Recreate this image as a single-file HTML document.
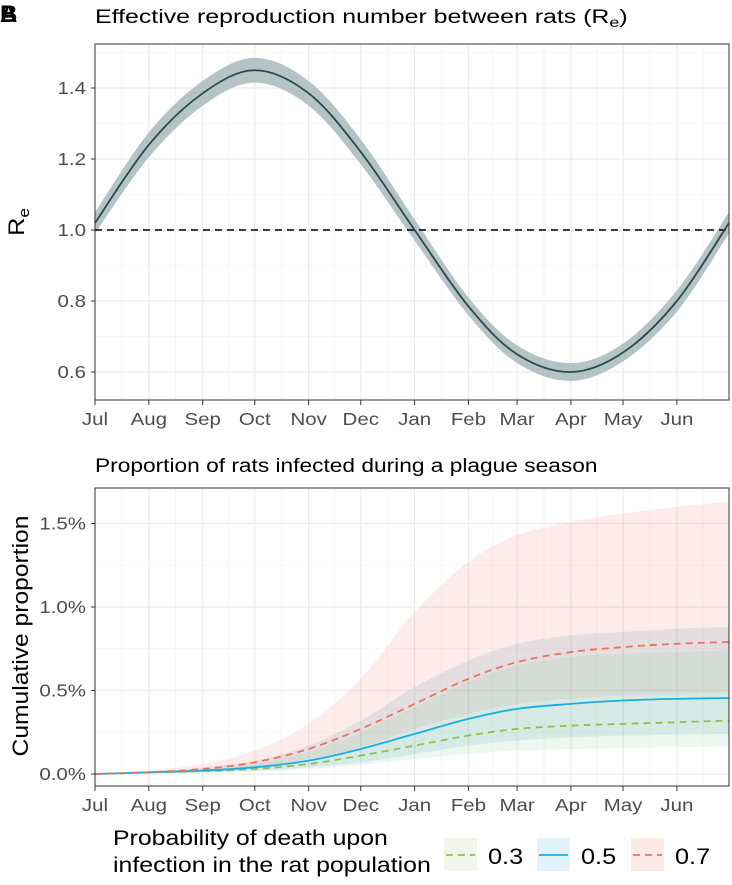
<!DOCTYPE html>
<html><head><meta charset="utf-8"><style>
body{margin:0;background:#fff;}
svg{display:block;font-family:"Liberation Sans",Arial,sans-serif;}
</style></head><body>
<svg id="c" width="732" height="885"></svg>
<script>
const months=["Jul","Aug","Sep","Oct","Nov","Dec","Jan","Feb","Mar","Apr","May","Jun"];
const monthDays=[0,31,62,92,123,153,184,215,243,274,304,335,365];
const reMid=[1.02,1.24,1.385,1.45,1.385,1.22,1.0,0.785,0.65,0.60,0.655,0.80,1.02];
const reBand=[0.03,0.035,0.035,0.035,0.035,0.035,0.03,0.025,0.025,0.025,0.025,0.03,0.03];
const reTicks=[0.6,0.8,1.0,1.2,1.4];
const p7Mid=[0,0.01,0.03,0.07,0.15,0.27,0.42,0.57,0.67,0.73,0.76,0.78,0.79];
const p7Hi=[0,0.02,0.06,0.14,0.30,0.57,0.97,1.27,1.43,1.51,1.56,1.60,1.63];
const p7Lo=[0,0.008,0.02,0.04,0.09,0.16,0.27,0.36,0.42,0.45,0.47,0.48,0.49];
const p5Mid=[0,0.01,0.02,0.04,0.08,0.15,0.24,0.33,0.39,0.42,0.44,0.45,0.455];
const p5Hi=[0,0.015,0.04,0.08,0.17,0.32,0.52,0.68,0.78,0.83,0.85,0.87,0.88];
const p5Lo=[0,0.005,0.01,0.02,0.04,0.07,0.12,0.17,0.20,0.22,0.23,0.235,0.24];
const p3Mid=[0,0.01,0.017,0.03,0.06,0.11,0.17,0.23,0.27,0.29,0.30,0.31,0.32];
const p3Hi=[0,0.013,0.03,0.06,0.13,0.25,0.40,0.55,0.65,0.70,0.72,0.73,0.74];
const p3Lo=[0,0.003,0.008,0.015,0.03,0.055,0.09,0.12,0.14,0.15,0.155,0.16,0.165];
const pTicks=[0,0.5,1.0,1.5];

const NS="http://www.w3.org/2000/svg",svg=document.getElementById('c');
function el(t,a,p){const e=document.createElementNS(NS,t);for(const k in a)e.setAttribute(k,a[k]);(p||svg).appendChild(e);return e;}
const X0=95,X1=729;
const x=d=>X0+d*(X1-X0)/365;
function pts(vals,y){return vals.map((v,i)=>[x(monthDays[i]),y(v)]);}
function smooth(p){let s="";for(let i=0;i<p.length-1;i++){const p0=p[Math.max(0,i-1)],p1=p[i],p2=p[i+1],p3=p[Math.min(p.length-1,i+2)];
const c1=[p1[0]+(p2[0]-p0[0])/6,p1[1]+(p2[1]-p0[1])/6],c2=[p2[0]-(p3[0]-p1[0])/6,p2[1]-(p3[1]-p1[1])/6];
s+=" C"+c1.join(",")+" "+c2.join(",")+" "+p2.join(",");}return s;}
function line(p){return "M"+p[0].join(",")+smooth(p);}
function band(hi,lo){const r=lo.slice().reverse();return "M"+hi[0].join(",")+smooth(hi)+" L"+r[0].join(",")+smooth(r)+"Z";}
// horizontally stretch a text element around its anchor point
function stretch(t,ax,ay,sx){t.setAttribute('transform','translate('+ax+','+ay+') scale('+sx+',1) translate('+(-ax)+','+(-ay)+')');}
const SX=1.17;

function panel(top,bot,y,ticks,minors,fmt,name){
  const g=el('g',{});
  for(let i=0;i<12;i++){const m=(x(monthDays[i])+x(monthDays[i+1]))/2;el('line',{x1:m,x2:m,y1:top,y2:bot,stroke:'#f0f0f0','stroke-width':0.6},g);}
  minors.forEach(v=>el('line',{x1:X0,x2:X1,y1:y(v),y2:y(v),stroke:'#f0f0f0','stroke-width':0.6},g));
  for(let i=0;i<12;i++){const m=x(monthDays[i]);el('line',{x1:m,x2:m,y1:top,y2:bot,stroke:'#ebebeb','stroke-width':1.2},g);}
  ticks.forEach(v=>el('line',{x1:X0,x2:X1,y1:y(v),y2:y(v),stroke:'#ebebeb','stroke-width':1.2},g));
  const ax=el('g',{});
  ticks.forEach(v=>{el('line',{x1:X0-4,x2:X0,y1:y(v),y2:y(v),stroke:'#333','stroke-width':1},ax);
    const t=el('text',{x:X0-9,y:y(v)+6,'text-anchor':'end','font-size':17.5,fill:'#4d4d4d'},ax);t.textContent=fmt(v);stretch(t,X0-9,0,SX);});
  months.forEach((m,i)=>{const xx=x(monthDays[i]);el('line',{x1:xx,x2:xx,y1:bot,y2:bot+5,stroke:'#333','stroke-width':1},ax);
    const t=el('text',{x:xx,y:bot+25,'text-anchor':'middle','font-size':17.5,fill:'#4d4d4d'},ax);t.textContent=m;stretch(t,xx,0,SX);});
}
function frame(top,bot){el('rect',{x:X0,y:top,width:X1-X0,height:bot-top,fill:'none',stroke:'#333','stroke-width':1});}

// Panel A
const T1=44,B1=400,yA=v=>230-(v-1.0)*355;
panel(T1,B1,yA,reTicks,[0.7,0.9,1.1,1.3,1.5],v=>v.toFixed(1),'re-panel');
const reB=el('path',{d:band(pts(reMid.map((v,i)=>v+reBand[i]),yA),pts(reMid.map((v,i)=>v-reBand[i]),yA)),fill:'#b4c3c3'});

const dl=el('line',{x1:X0,x2:X1,y1:yA(1),y2:yA(1),stroke:'#000','stroke-width':1.5,'stroke-dasharray':'7,5'});

const reL=el('path',{d:line(pts(reMid,yA)),fill:'none',stroke:'#2b4a4a','stroke-width':1.8});

frame(T1,B1);

// Panel B
const T2=488,B2=786,yB=v=>774-v*167;
panel(T2,B2,yB,pTicks,[0.25,0.75,1.25],v=>v.toFixed(1)+"%",'prop-panel');
const ser=[{n:'0.7',hi:p7Hi,lo:p7Lo,mid:p7Mid,c:'#e8735a',f:'rgba(248,118,109,0.14)',d:'7,5'},
 {n:'0.5',hi:p5Hi,lo:p5Lo,mid:p5Mid,c:'#1aaee0',f:'rgba(60,130,170,0.13)',d:''},
 {n:'0.3',hi:p3Hi,lo:p3Lo,mid:p3Mid,c:'#8fc04c',f:'rgba(120,200,150,0.15)',d:'7,5'}];
ser.forEach(s=>{const b=el('path',{d:band(pts(s.hi,yB),pts(s.lo,yB)),fill:s.f});
  });
ser.slice().reverse().forEach(s=>{const l=el('path',{d:line(pts(s.mid,yB)),fill:'none',stroke:s.c,'stroke-width':1.8,'stroke-dasharray':s.d});
  });
frame(T2,B2);

// titles
function txt(s,a,name){const t=el('text',a);t.textContent=s;return t;}
function fitW(t,ax,target){const w=t.getBBox().width;if(w>0)stretch(t,ax,0,target/w);}
const t1=el('text',{x:95,y:23,'font-size':19.5,fill:'#000'});
t1.innerHTML='Effective reproduction number between rats (R<tspan font-size="14" dy="4">e</tspan><tspan dy="-4">)</tspan>';
fitW(t1,95,533);
const t2=txt('Proportion of rats infected during a plague season',{x:95,y:472,'font-size':19.5,fill:'#000'},'panel-b-title');
fitW(t2,95,503);
txt('A',{x:0,y:22,'font-size':24,'font-weight':'bold'},'panel-a-label');
txt('B',{x:0,y:22,'font-size':24,'font-weight':'bold'},'panel-b-label');
const ya=el('text',{transform:'translate(24,222) rotate(-90) scale(1.15,1)','font-size':22,'text-anchor':'middle'});
ya.innerHTML='R<tspan font-size="15" dy="5" dx="0">e</tspan>';
txt('Cumulative proportion',{transform:'translate(28,636) rotate(-90) scale(1.12,1)','font-size':22,'text-anchor':'middle'},'prop-y-axis-title');

// legend
const l1=txt('Probability of death upon',{x:113,y:845,'font-size':21},'legend-title-line1');fitW(l1,113,275);
const l2=txt('infection in the rat population',{x:113,y:872,'font-size':21},'legend-title-line2');fitW(l2,113,318);
[{n:'0.3',x:444,c:'#8fc04c',f:'#f2f6e9',d:'7,5'},{n:'0.5',x:537,c:'#1aaee0',f:'#e1f3fb',d:''},{n:'0.7',x:631,c:'#e8735a',f:'#fdeae6',d:'7,5'}].forEach(k=>{
  const g=el('g',{});
  el('rect',{x:k.x,y:838,width:33,height:33,fill:k.f},g);
  el('line',{x1:k.x+2,x2:k.x+31,y1:855,y2:855,stroke:k.c,'stroke-width':1.8,'stroke-dasharray':k.d},g);
  const t=el('text',{x:k.x+44,y:864,'font-size':22},g);t.textContent=k.n;stretch(t,k.x+44,0,1.15);});
</script>
</body></html>
